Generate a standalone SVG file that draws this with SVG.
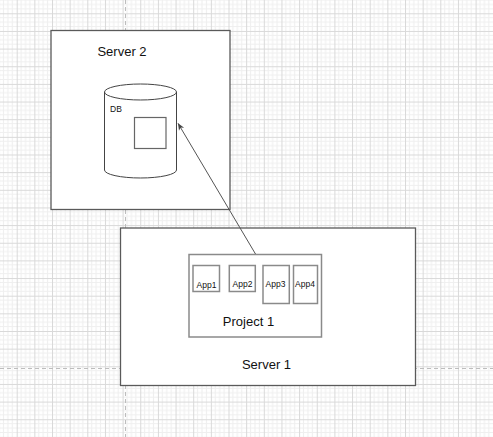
<svg xmlns="http://www.w3.org/2000/svg" width="493" height="437" viewBox="0 0 493 437">
<defs>
<pattern id="grid" patternUnits="userSpaceOnUse" x="16.7" y="13.3" width="17.65" height="17.65">
<rect width="17.65" height="17.65" fill="#ffffff"/>
<path d="M4.41 0V17.65M8.82 0V17.65M13.24 0V17.65M0 4.41H17.65M0 8.82H17.65M0 13.24H17.65" stroke="#efefef" stroke-width="1" fill="none"/>
<path d="M0.5 0V17.65M0 0.5H17.65" stroke="#d9d9d9" stroke-width="1" fill="none"/>
</pattern>
<marker id="arr" markerWidth="8" markerHeight="8" refX="7" refY="4" orient="auto" markerUnits="userSpaceOnUse">
<path d="M0 1L7 4L0 7L2 4Z" fill="#444"/>
</marker>
<style>
.box{fill:#fff;stroke:#5a5a5a;stroke-width:1.3}
.gbox{fill:#fff;stroke:#8a8a8a;stroke-width:1.5}
.t{font-family:"Liberation Sans",Arial,sans-serif;fill:#111;text-anchor:middle}
.big{font-size:13px}
.sm{font-size:8.5px}
</style>
</defs>
<rect width="493" height="437" fill="url(#grid)"/>
<path d="M125.5 0V437M0 368.5H493" stroke="#bdbdbd" stroke-width="1" stroke-dasharray="4 3" fill="none"/>
<g id="server2">
<rect class="box" x="51" y="30.5" width="179" height="179"/>
<text class="t big" x="122" y="56">Server 2</text>
</g>
<g id="db">
<path d="M104.5 92V170A36 8 0 0 0 176.5 170V92A36 8 0 0 0 104.5 92Z" fill="#fff" stroke="#444" stroke-width="1"/>
<path d="M104.5 92A36 8 0 0 0 176.5 92" fill="none" stroke="#444" stroke-width="1"/>
<text class="t sm" x="116" y="112">DB</text>
<rect x="134.5" y="117.5" width="31.5" height="31" fill="#fff" stroke="#666" stroke-width="1.2"/>
</g>
<g id="server1">
<rect class="box" x="120.5" y="228" width="295" height="157.5"/>
<text class="t big" x="266.5" y="369">Server 1</text>
</g>
<g id="project1">
<rect class="gbox" x="189" y="254.5" width="132.5" height="82.5"/>
<text class="t big" x="248.5" y="326">Project 1</text>
</g>
<g id="app1">
<rect class="gbox" x="193" y="265.5" width="26.5" height="26"/>
<text class="t sm" x="206.5" y="288">App1</text>
</g>
<g id="app2">
<rect class="gbox" x="229.3" y="265.5" width="26" height="26"/>
<text class="t sm" x="242.5" y="287">App2</text>
</g>
<g id="app3">
<rect class="gbox" x="263" y="265.5" width="26.3" height="38"/>
<text class="t sm" x="275.5" y="287">App3</text>
</g>
<g id="app4">
<rect class="gbox" x="293.5" y="265.5" width="24" height="38"/>
<text class="t sm" x="305" y="287">App4</text>
</g>
<g id="connectors">
<line x1="255.5" y1="254" x2="178" y2="123.3" stroke="#555" stroke-width="1" marker-end="url(#arr)"/>
</g>
</svg>
